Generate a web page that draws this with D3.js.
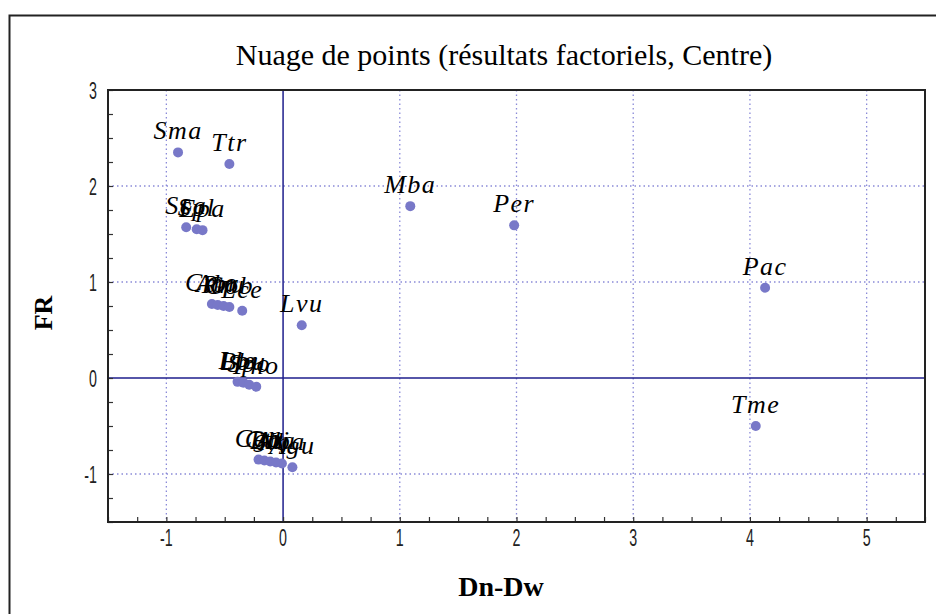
<!DOCTYPE html>
<html>
<head>
<meta charset="utf-8">
<script src="https://cdn.jsdelivr.net/npm/d3@7"></script>
<style>
  html, body { margin: 0; padding: 0; background: #fff; }
  svg { display: block; }
  .serif { font-family: "Liberation Serif", "Tinos", "DejaVu Serif", "Noto Serif", "Times New Roman", Times, serif; }
  .sans { font-family: "Liberation Sans", Arial, sans-serif; }
</style>
</head>
<body>
<svg id="chart" width="936" height="614"></svg>
<script>
// Factorial scores per species: Dn-Dw (x) against FR (y)
const labels = [
  "Sma", "Ttr", "Mba", "Per", "Pac", "Tme", "Lvu",
  "Sca", "Spl", "Epa",
  "Cmo", "Abr", "Rru", "Gob", "Lce",
  "Lle", "Bbu", "Spo", "Pho",
  "Cgo", "Ctr", "Bbj", "Ala", "Nba", "Agu"
];
const dnDw = [
  -0.90, -0.46, 1.09, 1.98, 4.13, 4.05, 0.16,
  -0.83, -0.74, -0.69,
  -0.61, -0.56, -0.51, -0.46, -0.35,
  -0.39, -0.34, -0.29, -0.23,
  -0.21, -0.16, -0.11, -0.06, -0.01, 0.08
];
const fr = [
  2.35, 2.23, 1.79, 1.59, 0.94, -0.50, 0.55,
  1.57, 1.55, 1.54,
  0.77, 0.76, 0.75, 0.74, 0.70,
  -0.04, -0.05, -0.07, -0.09,
  -0.85, -0.86, -0.87, -0.88, -0.89, -0.93
];
const xTicks = [-1, 0, 1, 2, 3, 4, 5];
const yTicks = [-1, 0, 1, 2, 3];

const svg = d3.select("#chart");
const plot = { left: 108, right: 925, top: 90, bottom: 522 };

const x = d3.scaleLinear().domain([-1.5, 5.5]).range([plot.left, plot.right]);
const y = d3.scaleLinear().domain([-1.5, 3]).range([plot.bottom, plot.top]);

// Outer frame
svg.append("rect")
  .attr("x", 9.5).attr("y", 15.5)
  .attr("width", 940).attr("height", 620)
  .attr("fill", "none").attr("stroke", "#222").attr("stroke-width", 2);

// Title
svg.append("text")
  .attr("class", "serif")
  .attr("x", 504).attr("y", 65)
  .attr("text-anchor", "middle")
  .attr("font-size", 30)
  .attr("fill", "#000")
  .text("Nuage de points (résultats factoriels, Centre)");

// Dotted grid at major ticks
const grid = svg.append("g");
grid.selectAll("line.gx").data(xTicks.filter(d => d !== 0)).join("line")
  .attr("x1", d => x(d)).attr("x2", d => x(d))
  .attr("y1", plot.top).attr("y2", plot.bottom)
  .attr("stroke", "#8a8ad8").attr("stroke-width", 1.3)
  .attr("stroke-dasharray", "1.5,3");
grid.selectAll("line.gy").data(yTicks.filter(d => d !== 0 && d !== 3)).join("line")
  .attr("y1", d => y(d)).attr("y2", d => y(d))
  .attr("x1", plot.left).attr("x2", plot.right)
  .attr("stroke", "#8a8ad8").attr("stroke-width", 1.3)
  .attr("stroke-dasharray", "1.5,3");

// Zero reference lines
svg.append("line")
  .attr("x1", x(0)).attr("x2", x(0))
  .attr("y1", plot.top).attr("y2", plot.bottom)
  .attr("stroke", "#1e1e8c").attr("stroke-width", 1.5);
svg.append("line")
  .attr("x1", plot.left).attr("x2", plot.right)
  .attr("y1", y(0)).attr("y2", y(0))
  .attr("stroke", "#1e1e8c").attr("stroke-width", 1.5);

// Axes with inward minor ticks every 0.25
const minorX = d3.range(-1.5, 5.5001, 0.25);
const minorY = d3.range(-1.5, 3.0001, 0.25);

const xAxis = svg.append("g")
  .attr("transform", `translate(0,${plot.bottom})`)
  .call(d3.axisBottom(x).tickValues(minorX).tickSize(-5).tickFormat(""));
const yAxis = svg.append("g")
  .attr("transform", `translate(${plot.left},0)`)
  .call(d3.axisLeft(y).tickValues(minorY).tickSize(-5).tickFormat(""));
[xAxis, yAxis].forEach(g => {
  g.select(".domain").remove();
  g.selectAll(".tick line").attr("stroke", "#333").attr("stroke-width", 1.2);
});

// Tick labels: tall, condensed digits
svg.append("g").selectAll("text").data(xTicks).join("text")
  .attr("class", "sans")
  .attr("transform", d => `translate(${x(d)},546) scale(0.62,1)`)
  .attr("text-anchor", "middle")
  .attr("font-size", 23)
  .attr("fill", "#222")
  .text(d => d);
svg.append("g").selectAll("text").data(yTicks).join("text")
  .attr("class", "sans")
  .attr("transform", d => `translate(97,${y(d) + 9}) scale(0.62,1)`)
  .attr("text-anchor", "end")
  .attr("font-size", 23)
  .attr("fill", "#222")
  .text(d => d);

// Plot frame
svg.append("rect")
  .attr("x", plot.left).attr("y", plot.top)
  .attr("width", plot.right - plot.left).attr("height", plot.bottom - plot.top)
  .attr("fill", "none").attr("stroke", "#222").attr("stroke-width", 2);

// Axis titles
svg.append("text")
  .attr("class", "serif")
  .attr("x", 501).attr("y", 596)
  .attr("text-anchor", "middle")
  .attr("font-weight", "bold").attr("font-size", 28)
  .text("Dn-Dw");
svg.append("text")
  .attr("class", "serif")
  .attr("transform", "translate(52,313) rotate(-90)")
  .attr("text-anchor", "middle")
  .attr("font-weight", "bold").attr("font-size", 26)
  .text("FR");

// Points and labels
const pts = labels.map((l, i) => ({ label: l, dx: dnDw[i], fr: fr[i] }));
svg.append("g").selectAll("circle").data(pts).join("circle")
  .attr("cx", d => x(d.dx)).attr("cy", d => y(d.fr))
  .attr("r", 5)
  .attr("fill", "#7878c8");
svg.append("g").selectAll("text").data(pts).join("text")
  .attr("class", "serif")
  .attr("x", d => x(d.dx)).attr("y", d => y(d.fr) - 13)
  .attr("text-anchor", "middle")
  .attr("font-style", "italic").attr("font-size", 26)
  .attr("letter-spacing", 1.5)
  .attr("fill", "#000")
  .text(d => d.label);
</script>
</body>
</html>
